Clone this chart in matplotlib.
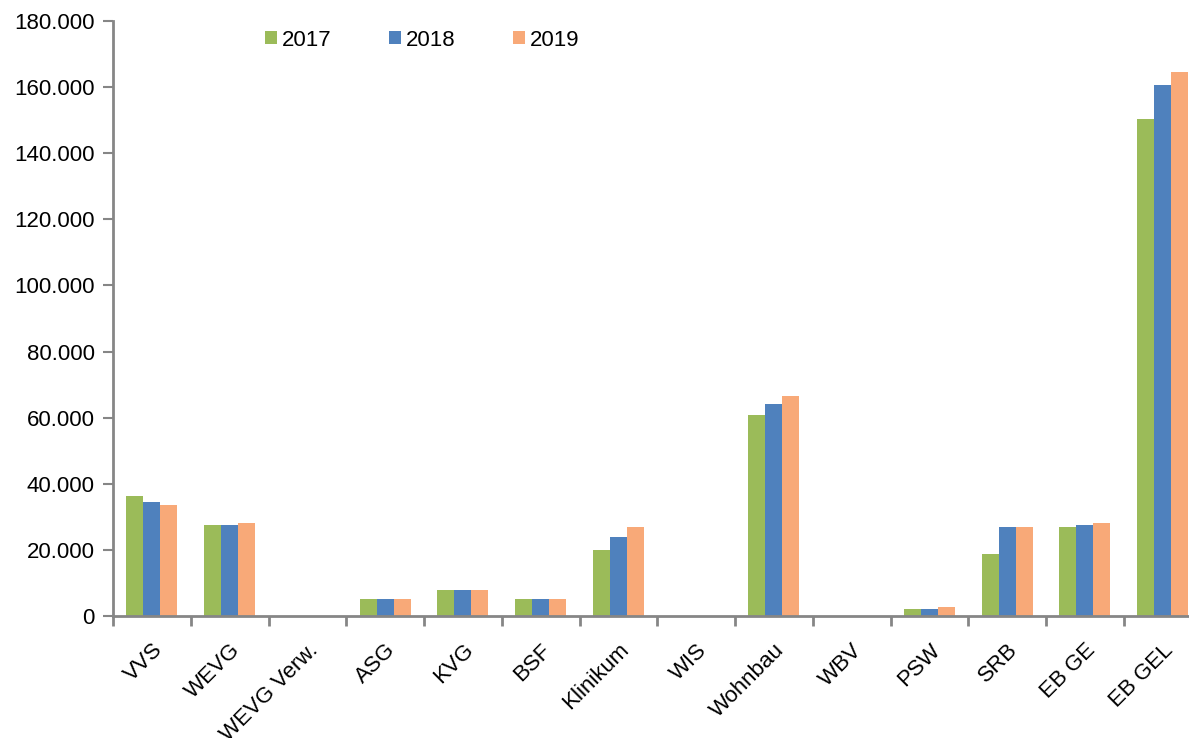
import matplotlib
matplotlib.use("Agg")
import matplotlib.pyplot as plt
import numpy as np
from matplotlib.ticker import FuncFormatter, MultipleLocator
from matplotlib.patches import Patch

categories = ["VVS", "WEVG", "WEVG Verw.", "ASG", "KVG", "BSF", "Klinikum", "WIS",
              "Wohnbau", "WBV", "PSW", "SRB", "EB GE", "EB GEL"]
years = ["2017", "2018", "2019"]
v2017 = [36300, 27500, 0, 5100, 8000, 5100, 20000, 0, 60700, 0, 2100, 18700, 26900, 150500]
v2018 = [34600, 27500, 0, 5100, 8000, 5100, 23900, 0, 64100, 0, 2100, 26900, 27500, 160600]
v2019 = [33500, 28100, 0, 5100, 8000, 5100, 26900, 0, 66500, 0, 2700, 26900, 28100, 164600]
colors = ["#9BBB59", "#4F81BD", "#F8A978"]

plt.rcParams['font.family'] = ['Liberation Sans', 'DejaVu Sans']

fig = plt.figure(figsize=(11.89, 7.38), dpi=100)
ax = fig.add_axes([113/1189, 1-616/738, (1201.5-113)/1189, (616-21)/738])

x = np.arange(len(categories))
w = 0.219
for i, (vals, c) in enumerate(zip([v2017, v2018, v2019], colors)):
    ax.bar(x + (i-1)*w, vals, width=w, color=c, label=years[i], zorder=2)

ax.set_xlim(-0.5, len(categories)-0.5)
ax.set_ylim(0, 180000)
ax.yaxis.set_major_locator(MultipleLocator(20000))
ax.yaxis.set_major_formatter(FuncFormatter(lambda v, p: f"{int(v):,}".replace(",", ".")))

ax.set_xticks(x)
ax.set_xticklabels(categories, rotation=45, ha='right', rotation_mode='anchor')
ax.set_xticks(np.arange(len(categories)+1)-0.5, minor=True)
ax.tick_params(axis='x', which='major', length=0, pad=17, labelsize=16)
ax.tick_params(axis='x', which='minor', length=7, width=2, color='#868686', direction='out')
ax.tick_params(axis='y', length=7, width=1.5, color='#868686', labelsize=16, pad=6)

for s in ['top', 'right']:
    ax.spines[s].set_visible(False)
for s in ['left', 'bottom']:
    ax.spines[s].set_color('#868686')
    ax.spines[s].set_linewidth(2)

handles = [Patch(facecolor=c, label=y) for c, y in zip(colors, years)]
fig.legend(handles=handles, loc='center left', bbox_to_anchor=(265/1189, 1-40/738),
           ncol=3, frameon=False, fontsize=16, handlelength=0.55, handleheight=0.55,
           handletextpad=0.2, columnspacing=2.6, borderpad=0, borderaxespad=0)

fig.savefig("out.png", dpi=100)
